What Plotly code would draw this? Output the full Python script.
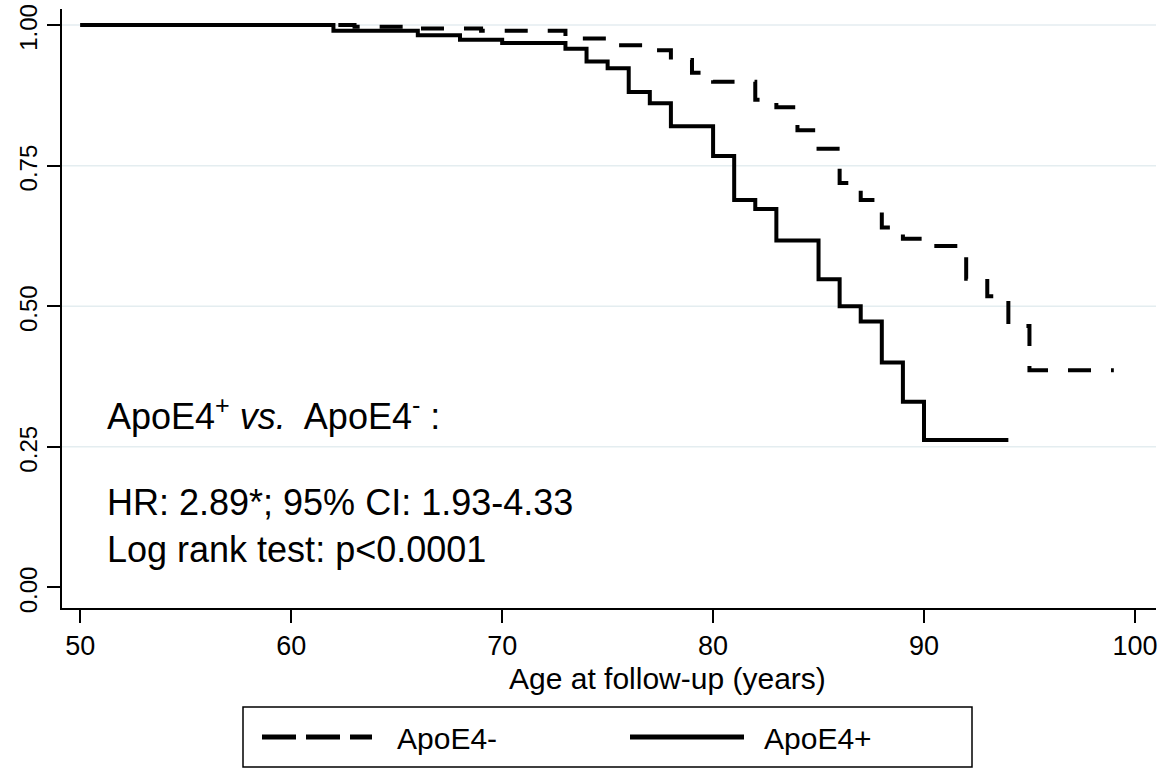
import plotly.graph_objects as go

# ---------------- data ----------------
age_neg = [50, 63, 66, 69, 73, 75, 77, 78, 79, 80, 82, 83, 84, 85, 86, 87, 88, 89, 90, 92, 93, 94, 95, 99]
surv_neg = [1.0, 0.997, 0.994, 0.990, 0.976, 0.964, 0.955, 0.938, 0.915, 0.899, 0.867, 0.854, 0.813,
            0.780, 0.719, 0.689, 0.640, 0.620, 0.607, 0.549, 0.518, 0.465, 0.386, 0.386]

age_pos = [50, 62, 66, 68, 70, 73, 74, 75, 76, 77, 78, 80, 81, 82, 83, 85, 86, 87, 88, 89, 90, 94]
surv_pos = [1.0, 0.990, 0.982, 0.974, 0.968, 0.958, 0.935, 0.923, 0.881, 0.861, 0.820, 0.767,
            0.689, 0.673, 0.617, 0.548, 0.500, 0.473, 0.400, 0.330, 0.262, 0.262]

x_ticks = [50, 60, 70, 80, 90, 100]
y_ticks = [0.0, 0.25, 0.5, 0.75, 1.0]
y_tick_labels = ["0.00", "0.25", "0.50", "0.75", "1.00"]
y_grid = [0.25, 0.5, 0.75, 1.0]

series_names = ["ApoE4-", "ApoE4+"]
x_title = "Age at follow-up (years)"
note_lines = ["ApoE4<sup>+</sup> <i>vs.</i>&nbsp; ApoE4<sup>-</sup> :",
              "HR: 2.89*; 95% CI: 1.93-4.33",
              "Log rank test: p&lt;0.0001"]

# ---------------- layout geometry ----------------
W, H = 1176, 769
ML, MR, MT, MB = 62, 20, 9, 161
PW, PH = W - ML - MR, H - MT - MB
FONT = "Liberation Sans, Arial, sans-serif"


def px(x):  # pixel x -> paper
    return (x - ML) / PW


def py(y):  # pixel y -> paper
    return (H - MB - y) / PH


fig = go.Figure()
fig.add_trace(go.Scatter(x=age_neg, y=surv_neg, mode="lines", line_shape="hv", name=series_names[0],
                         line=dict(color="black", width=4, dash="23px,20px")))
fig.add_trace(go.Scatter(x=age_pos, y=surv_pos, mode="lines", line_shape="hv", name=series_names[1],
                         line=dict(color="black", width=4)))

fig.update_layout(
    template="none",
    width=W, height=H, margin=dict(l=ML, r=MR, t=MT, b=MB, autoexpand=False),
    paper_bgcolor="white", plot_bgcolor="white", showlegend=False,
    font=dict(family=FONT, color="black", size=27),
    xaxis=dict(range=[49.13, 101.0], tickvals=x_ticks, showgrid=False, zeroline=False, automargin=False,
               showline=True, linecolor="black", linewidth=2, ticks="outside", ticklen=13,
               tickwidth=1.5, tickcolor="black", tickfont=dict(size=27, family=FONT)),
    yaxis=dict(range=[-0.0365, 1.0285], tickvals=y_ticks, ticktext=y_tick_labels, tickangle=-90,
               ticklabeloverflow="allow", automargin=False, ticklabelshift=6,
               showgrid=False, zeroline=False,
               showline=True, linecolor="black", linewidth=2, ticks="outside", ticklen=13,
               tickwidth=1.5, tickcolor="black", tickfont=dict(size=24, family=FONT)),
)

# horizontal grid lines (not at the axis minimum, as in the reference)
for g in y_grid:
    fig.add_shape(type="line", xref="paper", yref="y", x0=0, x1=1, y0=g, y1=g, layer="below",
                  line=dict(color="#e4edf0", width=1.5))

# axis title
fig.add_annotation(text=x_title, xref="paper", yref="paper", x=px(667), y=py(678),
                   showarrow=False, xanchor="center", yanchor="middle", font=dict(size=30, family=FONT))

# in-plot notes
for txt, yy in zip(note_lines, [414, 502, 549]):
    fig.add_annotation(text=txt, xref="paper", yref="paper", x=px(105), y=py(yy),
                       showarrow=False, xanchor="left", yanchor="middle", font=dict(size=36, family=FONT))

# legend (drawn manually)
fig.add_shape(type="rect", xref="paper", yref="paper", x0=px(243), x1=px(972), y0=py(767), y1=py(707),
              line=dict(color="black", width=1.5), fillcolor="white")
fig.add_shape(type="line", xref="paper", yref="paper", x0=px(262), x1=px(372), y0=py(737), y1=py(737),
              line=dict(color="black", width=5, dash="34px,10px"))
fig.add_shape(type="line", xref="paper", yref="paper", x0=px(630), x1=px(744), y0=py(737), y1=py(737),
              line=dict(color="black", width=5))
fig.add_annotation(text=series_names[0], xref="paper", yref="paper", x=px(395), y=py(738),
                   showarrow=False, xanchor="left", yanchor="middle", font=dict(size=30, family=FONT))
fig.add_annotation(text=series_names[1], xref="paper", yref="paper", x=px(762), y=py(738),
                   showarrow=False, xanchor="left", yanchor="middle", font=dict(size=30, family=FONT))

fig.write_html("out.html", config={"displayModeBar": False},
               post_script="document.body.style.margin='0';document.body.style.padding='0';")
